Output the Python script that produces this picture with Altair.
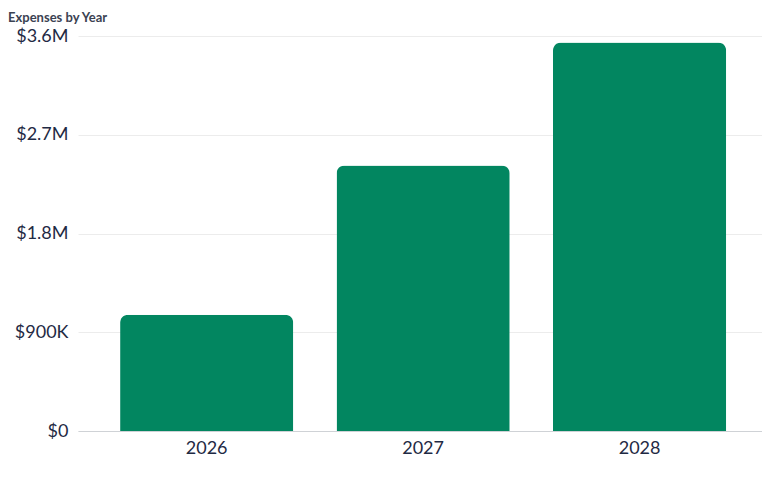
import altair as alt
import pandas as pd

years = ["2026", "2027", "2028"]
expenses = [1060000, 2420000, 3540000]
y_ticks = [0, 900000, 1800000, 2700000, 3600000]

df = pd.DataFrame({"year": years, "expenses": expenses})

font = "Lato"
label_color = "#1f2a44"

chart = alt.Chart(df).mark_bar(
    color="#028660",
    cornerRadiusTopLeft=8,
    cornerRadiusTopRight=8,
).encode(
    x=alt.X("year:N", title=None, sort=years,
            scale=alt.Scale(paddingInner=0.2, paddingOuter=0.18, align=0.54),
            axis=alt.Axis(labelAngle=0, labelFont=font, labelFontSize=18,
                          labelColor=label_color, labelPadding=8,
                          ticks=False, domain=True, domainColor="#cfd2d6",
                          grid=False)),
    y=alt.Y("expenses:Q", title=None,
            scale=alt.Scale(domain=[0, 3600000], nice=False),
            axis=alt.Axis(values=y_ticks, labelFont=font, labelFontSize=18,
                          labelColor=label_color, labelPadding=10,
                          ticks=False, domain=False, gridColor="#ececec",
                          labelExpr="datum.value == 0 ? '$0' : (datum.value < 1000000 ? '$' + format(datum.value/1000, '.0f') + 'K' : '$' + format(datum.value/1000000, '.1f') + 'M')")),
).properties(
    width=684,
    height=395,
    title=alt.TitleParams("Expenses by Year", anchor="start", frame="group",
                          font=font, fontSize=13, fontWeight="bold",
                          color="#3b4252", dx=-70, dy=15, offset=4, baseline="bottom"),
    autosize=alt.AutoSizeParams(type="none"),
    padding={"left": 70, "top": 28, "right": 0, "bottom": 38},
).configure_view(stroke=None)

chart.save("out.html", embed_options={"renderer": "svg", "actions": False})
